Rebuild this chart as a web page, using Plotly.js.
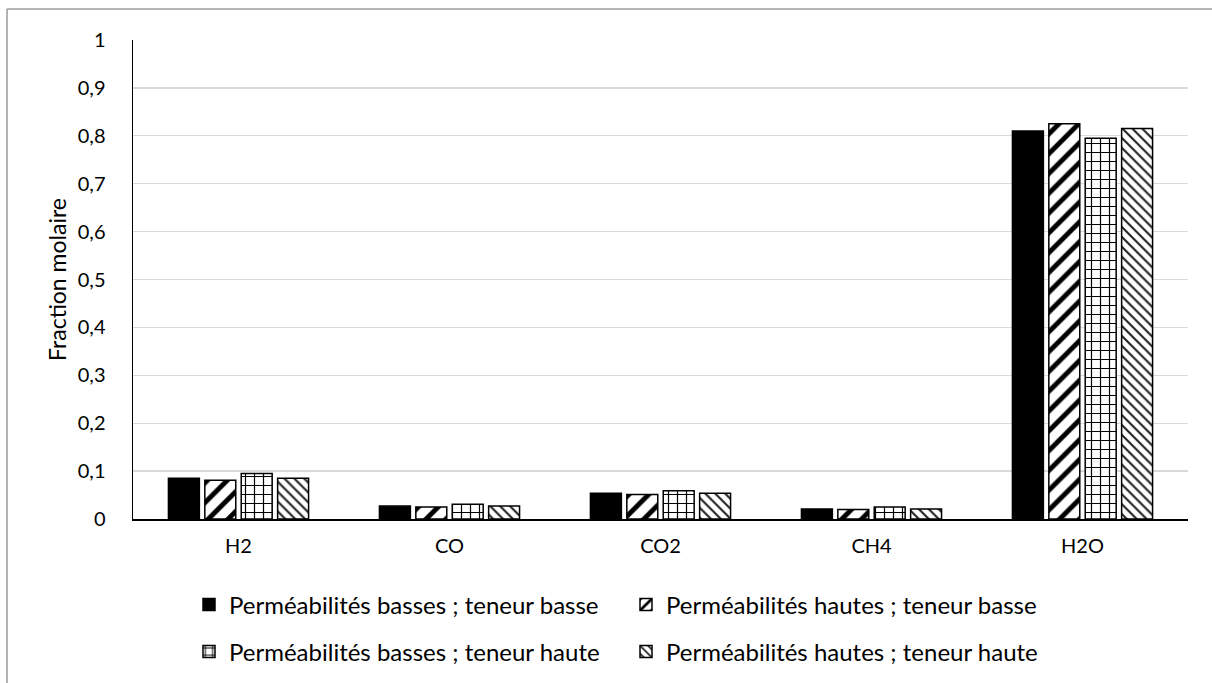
<!DOCTYPE html>
<html>
<head>
<meta charset="utf-8">
<script src="https://cdn.plot.ly/plotly-3.0.1.min.js"></script>
<style>
html,body{margin:0;padding:0;background:#fff;}
#chart{width:1212px;height:683px;}
</style>
</head>
<body>
<div id="chart"></div>
<script>
const categories = ["H2", "CO", "CO2", "CH4", "H2O"];
const seriesNames = [
  "Perméabilités basses ; teneur basse",
  "Perméabilités hautes ; teneur basse",
  "Perméabilités basses ; teneur haute",
  "Perméabilités hautes ; teneur haute"
];
const basBas = [0.085, 0.027, 0.054, 0.021, 0.810];
const hautBas = [0.081, 0.025, 0.051, 0.020, 0.825];
const basHaut = [0.095, 0.031, 0.059, 0.025, 0.795];
const hautHaut = [0.085, 0.027, 0.054, 0.021, 0.815];
const yTicks = [0, 0.1, 0.2, 0.3, 0.4, 0.5, 0.6, 0.7, 0.8, 0.9, 1];
const yTickText = ["0", "0,1", "0,2", "0,3", "0,4", "0,5", "0,6", "0,7", "0,8", "0,9", "1"];

const FONT = "Lato, 'Open Sans', sans-serif";
const outline = {color: "#000", width: 1.5};

const L = 133, R = 1188, T = 40, B = 519;
const W = R - L, H = B - T;
const px = v => (v - L) / W;
const py = v => (B - v) / H;

const traces = [
  {y: basBas, legend: "legend", marker: {color: "#000", line: outline}},
  {y: hautBas, legend: "legend", marker: {color: "#fff", line: outline,
     pattern: {shape: "/", fgcolor: "#000", bgcolor: "#fff", size: 14, solidity: 0.35, fillmode: "replace"}}},
  {y: basHaut, legend: "legend2", marker: {color: "#fff", line: outline,
     pattern: {shape: "+", fgcolor: "#000", bgcolor: "#fff", size: 9, solidity: 0.25, fillmode: "replace"}}},
  {y: hautHaut, legend: "legend2", marker: {color: "#fff", line: outline,
     pattern: {shape: "\\", fgcolor: "#222", bgcolor: "#fff", size: 7, solidity: 0.3, fillmode: "replace"}}}
].map((t, i) => Object.assign({type: "bar", x: categories, name: seriesNames[i], hoverinfo: "y"}, t));

const legendBase = {
  orientation: "h", xanchor: "left", x: px(189), yanchor: "middle",
  entrywidth: 392, entrywidthmode: "pixels",
  font: {size: 24, family: FONT}, bgcolor: "rgba(0,0,0,0)"
};

const layout = {
  width: 1212, height: 683,
  margin: {l: L, r: 1212 - R, t: T, b: 683 - B, autoexpand: false},
  paper_bgcolor: "#fff", plot_bgcolor: "#fff",
  font: {family: FONT, color: "#000"},
  barmode: "group", bargap: 0.31, bargroupgap: 0.15,
  xaxis: {
    showgrid: false, showline: true, linecolor: "#000", linewidth: 1.5,
    ticks: "", tickfont: {size: 20, family: FONT}, ticklabelstandoff: 8,
    automargin: false, fixedrange: true
  },
  yaxis: {
    range: [0, 1], tickvals: yTicks, ticktext: yTickText,
    showgrid: true, gridcolor: "#d9d9d9", gridwidth: 1.3,
    showline: true, linecolor: "#000", linewidth: 1.5, zeroline: false,
    ticks: "", tickfont: {size: 20, family: FONT}, ticklabelstandoff: 22,
    title: {text: "Fraction molaire", font: {size: 23, family: FONT}, standoff: 4},
    automargin: false, fixedrange: true
  },
  legend: Object.assign({}, legendBase, {y: py(605)}),
  legend2: Object.assign({}, legendBase, {y: py(652)}),
  shapes: [
    {type: "line", xref: "paper", yref: "paper", x0: px(7), x1: px(7), y0: py(9), y1: py(690),
     line: {color: "#b3b3b3", width: 2}},
    {type: "line", xref: "paper", yref: "paper", x0: px(7), x1: px(1215), y0: py(9), y1: py(9),
     line: {color: "#9e9e9e", width: 1.5}}
  ],
  showlegend: true
};

Plotly.newPlot("chart", traces, layout, {displayModeBar: false, staticPlot: true});
</script>
</body>
</html>
